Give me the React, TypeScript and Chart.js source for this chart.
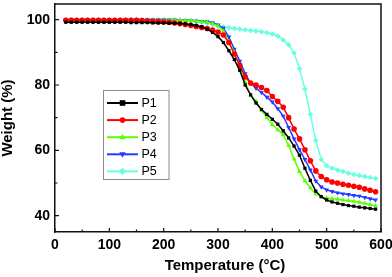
import React, { useEffect, useRef } from "react";
import { Chart, registerables } from "chart.js";

Chart.register(...registerables);

const temperatures = [
  20, 30, 40, 50, 60, 70, 80, 90, 100, 110, 120, 130, 140, 150, 160, 170, 180, 190, 200,
  210, 220, 230, 240, 250, 260, 270, 280, 290, 300, 310, 320, 330, 340, 350, 360, 370, 380,
  390, 400, 410, 420, 430, 440, 450, 460, 470, 480, 490, 500, 510, 520, 530, 540, 550, 560,
  570, 580, 590,
];

const p1 = [
  99.2, 99.2, 99.2, 99.2, 99.2, 99.2, 99.2, 99.2, 99.2, 99.2, 99.2, 99.2, 99.1, 99.1, 99.1, 99.1, 99.0, 99.0, 99.0,
  98.9, 98.9, 98.8, 98.7, 98.5, 98.2, 97.8, 97.1, 96.1, 94.8, 93.0, 90.5, 87.8, 84.5, 80.0, 77.0, 74.5, 72.5,
  71.0, 69.5, 68.0, 66.0, 63.8, 61.3, 58.5, 54.5, 50.8, 47.5, 45.8, 44.8, 44.2, 43.8, 43.4, 43.1, 42.9, 42.6,
  42.4, 42.2, 42.0,
];

const p2 = [
  99.8, 99.8, 99.8, 99.8, 99.8, 99.8, 99.8, 99.8, 99.8, 99.8, 99.8, 99.8, 99.8, 99.8, 99.7, 99.6, 99.5, 99.4, 99.3,
  99.2, 99.0, 98.8, 98.5, 98.2, 97.9, 97.6, 97.3, 96.8, 96.2, 95.3, 93.0, 89.5, 86.0, 82.5, 80.6, 80.0, 79.2,
  78.3, 76.5, 75.0, 73.2, 70.0, 66.5, 63.5, 60.2, 56.8, 53.7, 52.0, 51.0, 50.3, 50.0, 49.6, 49.3, 49.0, 48.7,
  48.2, 47.8, 47.3,
];

const p3 = [
  99.8, 99.8, 99.8, 99.8, 99.8, 99.8, 99.8, 99.8, 99.8, 99.8, 99.8, 99.8, 99.8, 99.8, 99.8, 99.8, 99.8, 99.8, 99.8,
  99.8, 99.8, 99.8, 99.8, 99.7, 99.6, 99.4, 99.2, 98.8, 98.1, 96.5, 93.3, 90.0, 85.8, 81.0, 76.8, 75.0, 72.3,
  70.0, 67.9, 66.3, 64.8, 61.5, 57.3, 53.5, 50.7, 48.5, 46.7, 45.8, 45.4, 45.2, 45.0, 44.8, 44.6, 44.4, 44.1,
  43.8, 43.4, 43.0,
];

const p4 = [
  100.0, 100.0, 100.0, 100.0, 100.0, 100.0, 100.0, 100.0, 100.0, 100.0, 100.0, 100.0, 100.0, 100.0, 100.0, 100.0, 100.0, 100.0, 100.0,
  99.9, 99.9, 99.8, 99.8, 99.7, 99.6, 99.5, 99.4, 99.1, 98.4, 97.4, 94.7, 91.0, 87.3, 83.5, 80.5, 79.0, 77.7,
  76.3, 74.8, 72.8, 70.5, 67.0, 63.5, 60.2, 57.2, 54.0, 50.6, 48.8, 47.9, 47.4, 47.0, 46.7, 46.5, 46.2, 46.0,
  45.6, 45.2, 44.8,
];

const p5 = [
  100.0, 100.0, 100.0, 100.0, 100.0, 100.0, 100.0, 100.0, 100.0, 100.0, 100.0, 100.0, 100.0, 100.0, 100.0, 100.0, 100.0, 100.0, 100.0,
  99.9, 99.9, 99.8, 99.7, 99.6, 99.4, 99.2, 98.9, 98.5, 98.1, 97.8, 97.5, 97.3, 97.1, 96.9, 96.7, 96.5, 96.3,
  96.0, 95.6, 95.0, 93.8, 92.3, 89.8, 85.0, 78.8, 71.0, 63.0, 57.2, 55.3, 54.5, 54.0, 53.5, 53.0, 52.6, 52.3,
  52.0, 51.7, 51.4,
];

const seriesNames = ["P1", "P2", "P3", "P4", "P5"];
const seriesValues = [p1, p2, p3, p4, p5];
const seriesColors = ["#000000", "#ff0000", "#5cff00", "#1f3cff", "#66ffe0"];
const seriesPoints = ["rect", "circle", "triangle", "triangle", "rectRot"];
const seriesRotation = [0, 0, 0, 180, 0];

const xMajorTicks = [0, 100, 200, 300, 400, 500, 600];
const xMinorTicks = [50, 150, 250, 350, 450, 550];
const yMajorTicks = [40, 60, 80, 100];
const yMinorTicks = [50, 70, 90];

const FONT = "'Liberation Sans', Arial, sans-serif";

function drawPoint(ctx: CanvasRenderingContext2D, style: string, r: number, x: number, y: number, rot: number) {
  ctx.save();
  ctx.translate(x, y);
  ctx.rotate((rot * Math.PI) / 180);
  ctx.beginPath();
  if (style === "rect") {
    ctx.rect(-r, -r, 2 * r, 2 * r);
  } else if (style === "circle") {
    ctx.arc(0, 0, r, 0, Math.PI * 2);
  } else if (style === "triangle") {
    const s = r * 1.2;
    ctx.moveTo(0, -s);
    ctx.lineTo(s * 0.95, s * 0.6);
    ctx.lineTo(-s * 0.95, s * 0.6);
    ctx.closePath();
  } else {
    ctx.moveTo(0, -r * 1.3);
    ctx.lineTo(r * 1.3, 0);
    ctx.lineTo(0, r * 1.3);
    ctx.lineTo(-r * 1.3, 0);
    ctx.closePath();
  }
  ctx.fill();
  ctx.restore();
}

const framePlugin = {
  id: "frameTicks",
  afterDraw(chart: any) {
    const { ctx, chartArea } = chart;
    const { left, right, top, bottom } = chartArea;
    const xs = chart.scales.x;
    const ys = chart.scales.y;
    ctx.save();
    ctx.strokeStyle = "#111";
    ctx.lineWidth = 1.5;
    ctx.beginPath();
    ctx.moveTo(left, top);
    ctx.lineTo(right, top);
    ctx.lineTo(right, bottom);
    ctx.stroke();
    ctx.lineWidth = 1.2;
    ctx.beginPath();
    const tick = (v: number, len: number, horiz: boolean) => {
      if (horiz) {
        const px = xs.getPixelForValue(v);
        ctx.moveTo(px, bottom);
        ctx.lineTo(px, bottom - len);
      } else {
        const py = ys.getPixelForValue(v);
        ctx.moveTo(left, py);
        ctx.lineTo(left + len, py);
      }
    };
    xMajorTicks.forEach((v) => tick(v, 4, true));
    xMinorTicks.forEach((v) => tick(v, 2.5, true));
    yMajorTicks.forEach((v) => tick(v, 4, false));
    yMinorTicks.forEach((v) => tick(v, 2.5, false));
    ctx.stroke();

    // x-axis title
    ctx.fillStyle = "#000";
    ctx.font = `bold 15px ${FONT}`;
    ctx.textAlign = "center";
    ctx.textBaseline = "middle";
    ctx.fillText("Temperature (°C)", 225, 265.5);

    // legend
    const bx = 103.5, by = 90.5, bw = 65.5, bh = 89;
    ctx.strokeStyle = "#8a8a8a";
    ctx.lineWidth = 1;
    ctx.strokeRect(bx, by, bw, bh);
    ctx.font = `12.5px ${FONT}`;
    ctx.textAlign = "left";
    chart.data.datasets.forEach((ds: any, i: number) => {
      const y = 103 + i * 17.1;
      ctx.strokeStyle = ds.borderColor;
      ctx.lineWidth = 2;
      ctx.beginPath();
      ctx.moveTo(107, y);
      ctx.lineTo(138, y);
      ctx.stroke();
      ctx.fillStyle = ds.pointBackgroundColor;
      drawPoint(ctx, ds.pointStyle, 2.8, 122.5, y, ds.pointRotation || 0);
      ctx.fillStyle = "#000";
      ctx.fillText(ds.label, 141.5, y + 0.5);
    });
    ctx.restore();
  },
};

export default function App() {
  const ref = useRef<HTMLCanvasElement | null>(null);
  useEffect(() => {
    if (!ref.current) return;
    const datasets = seriesNames.map((name, i) => ({
      label: name,
      data: temperatures.map((t, j) => ({ x: t, y: seriesValues[i][j] })),
      borderColor: seriesColors[i],
      backgroundColor: seriesColors[i],
      pointBackgroundColor: seriesColors[i],
      pointBorderColor: seriesColors[i],
      pointStyle: seriesPoints[i],
      pointRotation: seriesRotation[i],
      pointRadius: i === 0 ? 2.3 : 2.8,
      pointBorderWidth: 0,
      borderWidth: 1.5,
      tension: 0,
      fill: false,
    }));
    const chart = new Chart(ref.current, {
      type: "line",
      data: { datasets },
      options: {
        animation: false,
        responsive: false,
        devicePixelRatio: 1,
        layout: { padding: { left: 0, top: 3, right: 11, bottom: 0 } },
        plugins: { legend: { display: false }, tooltip: { enabled: false } },
        scales: {
          x: {
            type: "linear",
            min: 0,
            max: 600,
            afterFit: (s: any) => {
              s.height = 45;
              s.paddingLeft = 0;
              s.paddingRight = 0;
            },
            afterBuildTicks: (s: any) => {
              s.ticks = xMajorTicks.map((v) => ({ value: v }));
            },
            grid: { display: false, drawTicks: false, tickLength: 0 },
            border: { display: true, color: "#111", width: 1.5 },
            ticks: {
              padding: 5,
              color: "#000",
              maxRotation: 0,
              font: { family: FONT, size: 14, weight: "bold" },
            },
          },
          y: {
            type: "linear",
            min: 35,
            max: 104.8,
            afterFit: (s: any) => {
              s.width = 55;
              s.paddingTop = 0;
              s.paddingBottom = 0;
            },
            afterBuildTicks: (s: any) => {
              s.ticks = yMajorTicks.map((v) => ({ value: v }));
            },
            grid: { display: false, drawTicks: false, tickLength: 0 },
            border: { display: true, color: "#111", width: 1.5 },
            title: {
              display: true,
              text: "Weight (%)",
              color: "#000",
              padding: { top: -1, bottom: 0 },
              font: { family: FONT, size: 15, weight: "bold" },
            },
            ticks: {
              padding: 5,
              color: "#000",
              font: { family: FONT, size: 14, weight: "bold" },
            },
          },
        },
      },
      plugins: [framePlugin],
    } as any);
    return () => chart.destroy();
  }, []);
  return (
    <div style={{ position: "fixed", left: 0, top: 0, width: 392, height: 277, background: "#fff" }}>
      <canvas ref={ref} width={392} height={277} style={{ width: 392, height: 277 }} />
    </div>
  );
}
